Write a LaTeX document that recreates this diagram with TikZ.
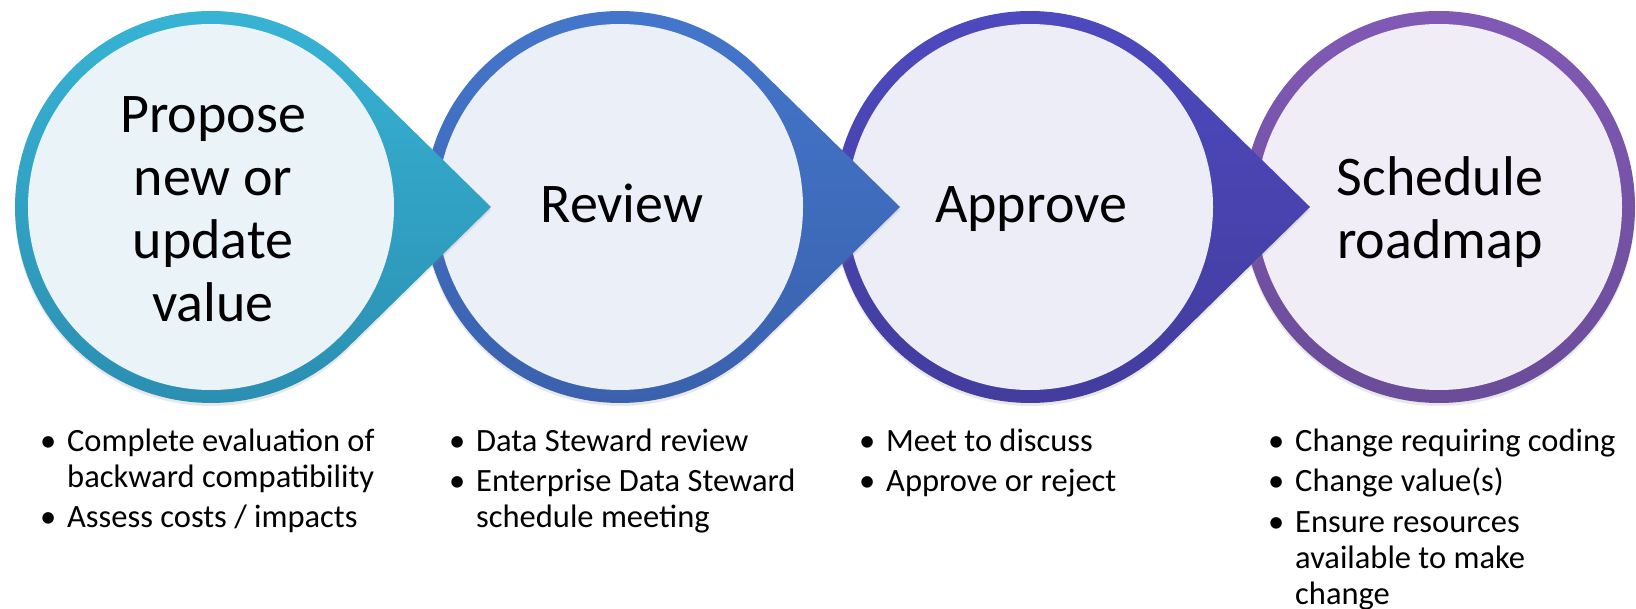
\documentclass[tikz,border=0pt]{standalone}
\usepackage{fontspec}
\setmainfont{Carlito}
\usetikzlibrary{shadows}

\definecolor{tealTop}{HTML}{38B5D6}
\definecolor{tealBot}{HTML}{2A8DB0}
\definecolor{tealIn}{HTML}{EAF3F8}
\definecolor{blueTop}{HTML}{4477CC}
\definecolor{blueBot}{HTML}{3A60AC}
\definecolor{blueIn}{HTML}{EBEFF8}
\definecolor{indigoTop}{HTML}{4E4AC0}
\definecolor{indigoBot}{HTML}{423C9C}
\definecolor{indigoIn}{HTML}{EDEDF8}
\definecolor{purpleTop}{HTML}{8159B5}
\definecolor{purpleBot}{HTML}{6A4C98}
\definecolor{purpleIn}{HTML}{F1EDF7}

\tikzset{
  stepring/.style={drop shadow={opacity=0.18, shadow xshift=0pt, shadow yshift=-3pt}},
  title/.style={align=center, inner sep=0pt, font=\fontsize{56}{63}\selectfont},
  bullets/.style={align=left, anchor=base west, inner sep=0pt, font=\fontsize{32.5}{36}\selectfont},
}
\newcommand{\bul}{\makebox[27pt][l]{\textbullet}}
\newcommand{\ind}{\hspace*{27pt}}

\begin{document}
\begin{tikzpicture}[x=1pt, y=-1pt]
  \fill[white] (0,0) rectangle (1636,609);
  \useasboundingbox (0,0) rectangle (1636,609);

  % Last step: a plain circle
  \path[stepring, top color=purpleTop, bottom color=purpleBot] (1439,207) circle[radius=196];
  \fill[purpleIn] (1439,207) circle[radius=183];

  % Other steps, drawn from right to left so each arrow lies on the next circle
  \foreach \cx/\top/\bot/\inner in {1030/indigoTop/indigoBot/indigoIn,
      620/blueTop/blueBot/blueIn, 211/tealTop/tealBot/tealIn}{
    \path[stepring, top color=\top, bottom color=\bot]
      (\cx+280,207) -- ([shift={(45.6:196)}]\cx,207)
      arc[start angle=45.6, end angle=314.4, radius=196] -- cycle;
    \fill[\inner] (\cx,207) circle[radius=183];
  }

  % Titles
  \node[title] (propose) at (213,209) {Propose\\new or\\update\\value};
  \node[title, anchor=base] (review) at (622,223) {Review};
  \node[title, anchor=base] (approve) at (1031,223) {Approve};
  \node[title] (schedule) at (1440,212) {Schedule\\roadmap};

  % Bullet lists (placed at the baseline of their last line)
  \node[bullets] (proposeList) at (40,527.5)
    {\bul Complete evaluation of\\\ind backward compatibility\\[4.5pt]\bul Assess costs / impacts};
  \node[bullets] (reviewList) at (449,527.5)
    {\bul Data Steward review\\[4.5pt]\bul Enterprise Data Steward\\\ind schedule meeting};
  \node[bullets] (approveList) at (859,491.5)
    {\bul Meet to discuss\\[4.5pt]\bul Approve or reject};
  \node[bullets] (scheduleList) at (1268,604)
    {\bul Change requiring coding\\[4.5pt]\bul Change value(s)\\[4.5pt]\bul Ensure resources\\\ind available to make\\\ind change};
\end{tikzpicture}
\end{document}
